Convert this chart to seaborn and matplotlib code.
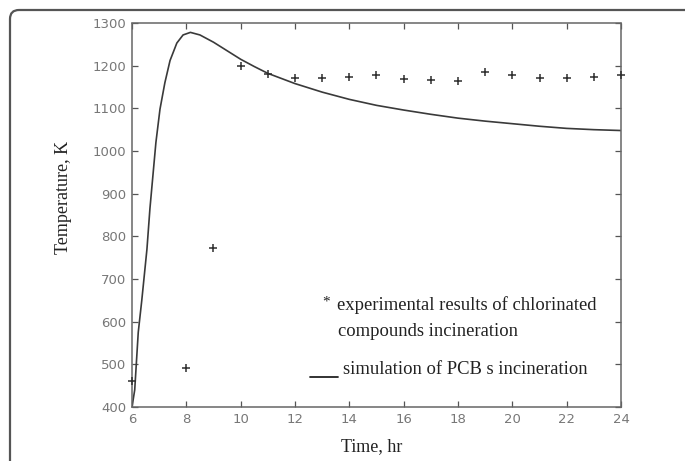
import numpy as np
import pandas as pd
import matplotlib
matplotlib.use("Agg")
import matplotlib.pyplot as plt
from matplotlib.patches import FancyBboxPatch
from matplotlib.transforms import IdentityTransform
import seaborn as sns

# Experimental results (+ markers)
exp_time = [6, 8, 9, 10, 11, 12, 13, 14, 15, 16, 17, 18, 19, 20, 21, 22, 23, 24]
exp_temp = [461, 492, 773, 1200, 1180, 1172, 1172, 1174, 1179, 1168, 1167, 1165,
            1185, 1179, 1171, 1171, 1174, 1178]

# Simulation curve
sim_time = [6.0, 6.1, 6.23, 6.36, 6.55, 6.66, 6.88, 7.03, 7.21, 7.4, 7.65, 7.88,
            8.15, 8.5, 9.0, 9.5, 10.0, 10.5, 11.0, 11.5, 12.0, 13.0, 14.0, 15.0,
            16.0, 17.0, 18.0, 19.0, 20.0, 21.0, 22.0, 23.0, 24.0]
sim_temp = [400, 440, 575, 650, 770, 865, 1020, 1098, 1160, 1212, 1253, 1272,
            1278, 1272, 1255, 1235, 1215, 1198, 1182, 1170, 1158, 1138, 1121, 1107,
            1096, 1086, 1077, 1070, 1064, 1058, 1053, 1050, 1048]

x_ticks = [6, 8, 10, 12, 14, 16, 18, 20, 22, 24]
y_ticks = [400, 500, 600, 700, 800, 900, 1000, 1100, 1200, 1300]

sns.set_theme(style="white")
plt.rcParams['font.family'] = ['Liberation Serif', 'DejaVu Serif']

W, H = 685, 461
fig = plt.figure(figsize=(W / 100, H / 100), dpi=100)
fig.patch.set_facecolor("white")
L, R, T, B = 132, 621, 23, 407
ax = fig.add_axes([L / W, 1 - B / H, (R - L) / W, (B - T) / H])

sim_df = pd.DataFrame({"time": sim_time, "temp": sim_temp})
exp_df = pd.DataFrame({"time": exp_time, "temp": exp_temp})

sns.lineplot(data=sim_df, x="time", y="temp", ax=ax, color="#3a3a3a", linewidth=1.2)
sns.scatterplot(data=exp_df, x="time", y="temp", ax=ax, marker="+", color="#2e2e2e",
                s=36, linewidth=1.1, zorder=3, clip_on=False)

ax.set_xlim(6, 24)
ax.set_ylim(400, 1300)
ax.set_xticks(x_ticks)
ax.set_yticks(y_ticks)
ax.set_xticklabels([str(t) for t in x_ticks], family="DejaVu Sans", fontsize=9.5, color="#777777")
ax.set_yticklabels([str(t) for t in y_ticks], family="DejaVu Sans", fontsize=9.5, color="#777777")
ax.tick_params(direction="in", length=4, width=0.9, color="#555555", top=True, right=True,
               bottom=True, left=True, pad=4)
for sp in ax.spines.values():
    sp.set_color("#666666")
    sp.set_linewidth(1.1)
    sp.set_linestyle((0, (6, 1)))

ax.set_xlabel("Time, hr", fontsize=13, color="#222222")
ax.set_ylabel("Temperature, K", fontsize=13, color="#222222")
ax.xaxis.set_label_coords(0.49, -0.08)
ax.yaxis.set_label_coords(-0.122, 0.545)

# Annotations (legend-like text)
ax.text(13.0, 645, "*", fontsize=11, color="#222222", ha="left", va="center")
ax.text(13.55, 639, "experimental results of chlorinated", fontsize=13.4, color="#222222",
        ha="left", va="center")
ax.text(13.6, 576, "compounds incineration", fontsize=13.4, color="#222222",
        ha="left", va="center")
ax.plot([12.55, 13.58], [470, 470], color="#222222", linewidth=1.3)
ax.text(13.77, 487, "simulation of PCB s incineration", fontsize=13.4, color="#222222",
        ha="left", va="center")

# Rounded outer frame
frame = FancyBboxPatch((10, -30), W + 40, H - 10 + 30,
                       boxstyle="round,pad=0,rounding_size=9",
                       transform=IdentityTransform(), facecolor="none",
                       edgecolor="#555555", linewidth=1.6)
fig.add_artist(frame)

fig.savefig("out.png", dpi=100)
